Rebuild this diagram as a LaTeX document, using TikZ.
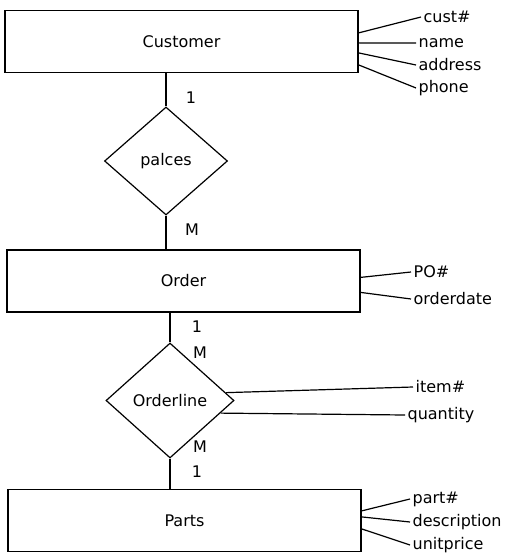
\documentclass[tikz,border=0pt]{standalone}
\usepackage{fontspec}
\setmainfont{DejaVu Sans}
\usetikzlibrary{shapes.geometric}

\begin{document}
\begin{tikzpicture}[x=1pt,y=-1pt,line width=1.2pt,font=\fontsize{16}{19}\selectfont]

\tikzset{entity/.style={draw, minimum width=353pt, minimum height=62pt, inner sep=0pt},
  relation/.style={draw, diamond, inner sep=1pt},
  attr/.style={anchor=west, inner sep=2pt},
  card/.style={inner sep=0pt}}

\useasboundingbox (0,0) rectangle (515,559);

\node[entity] (cust) at (181.5,41.5) {Customer};
\node[entity] (ord) at (183.5,281) {Order};
\node[entity] (parts) at (184.5,520.5) {Parts};

\node[relation, minimum width=123pt, minimum height=108pt] (pal) at (166,161) {palces};
\node[relation, minimum width=128pt, minimum height=115pt] (ol) at (170,400.5) {Orderline};

\draw (cust.south -| pal.north) -- (pal.north);
\draw (pal.south) -- (pal.south |- ord.north);
\draw (ord.south -| ol.north) -- (ol.north);
\draw (ol.south) -- (ol.south |- parts.north);

\node[card] (c1) at (191,98) {1};
\node[card] (c2) at (192,230) {M};
\node[card] (c3) at (197,327) {1};
\node[card] (c4) at (200,353) {M};
\node[card] (c5) at (200,447) {M};
\node[card] (c6) at (197,472) {1};

\node[attr] (custno) at (421,17) {cust\#};
\node[attr] (name) at (416,43) {name};
\node[attr] (addr) at (416,65) {address};
\node[attr] (phone) at (416,88) {phone};
\draw ([yshift=-23pt]cust.north east) -- (custno.west);
\draw ([yshift=-33pt]cust.north east) -- (name.west);
\draw ([yshift=-43pt]cust.north east) -- (addr.west);
\draw ([yshift=-55pt]cust.north east) -- (phone.west);

\node[attr] (pono) at (411,272) {PO\#};
\node[attr] (odate) at (411,299) {orderdate};
\draw ([yshift=-28pt]ord.north east) -- (pono.west);
\draw ([yshift=-43pt]ord.north east) -- (odate.west);

\node[attr] (itemno) at (413,387) {item\#};
\node[attr] (qty) at (405,415) {quantity};
\draw (ol.8) -- (itemno.west);
\draw (ol.-14) -- (qty.west);

\node[attr] (partno) at (410,499) {part\#};
\node[attr] (descr) at (410,522) {description};
\node[attr] (price) at (410,545) {unitprice};
\draw ([yshift=-22pt]parts.north east) -- (partno.west);
\draw ([yshift=-28pt]parts.north east) -- (descr.west);
\draw ([yshift=-40pt]parts.north east) -- (price.west);

\end{tikzpicture}
\end{document}
